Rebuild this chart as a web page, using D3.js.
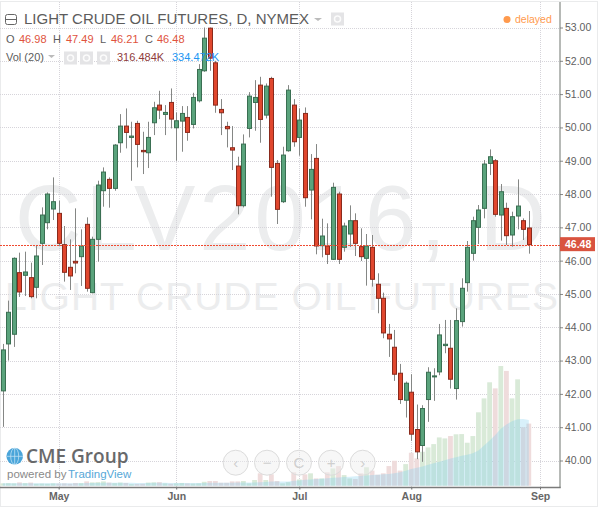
<!DOCTYPE html>
<html>
<head>
<meta charset="utf-8">
<title>Light Crude Oil Futures</title>
<script src="https://d3js.org/d3.v7.min.js"></script>
<style>
html, body { margin: 0; padding: 0; background: #fff; }
svg { display: block; font-family: "Liberation Sans", Arial, sans-serif; }
</style>
</head>
<body>
<div id="chart"></div>
<script>
// trading days, Apr 18 to Sep 1 2016
var days = ["04-18","04-19","04-20","04-21","04-22","04-25","04-26","04-27","04-28","04-29",
  "05-02","05-03","05-04","05-05","05-06","05-09","05-10","05-11","05-12","05-13",
  "05-16","05-17","05-18","05-19","05-20","05-23","05-24","05-25","05-26","05-27","05-31",
  "06-01","06-02","06-03","06-06","06-07","06-08","06-09","06-10","06-13","06-14","06-15",
  "06-16","06-17","06-20","06-21","06-22","06-23","06-24","06-27","06-28","06-29","06-30",
  "07-01","07-05","07-06","07-07","07-08","07-11","07-12","07-13","07-14","07-15","07-18",
  "07-19","07-20","07-21","07-22","07-25","07-26","07-27","07-28","07-29",
  "08-01","08-02","08-03","08-04","08-05","08-08","08-09","08-10","08-11","08-12","08-15",
  "08-16","08-17","08-18","08-19","08-22","08-23","08-24","08-25","08-26","08-29","08-30",
  "08-31","09-01"];

var opens = [42.09,43.50,43.79,45.64,45.56,45.49,45.20,46.52,47.14,47.55,
  47.42,46.48,45.80,45.98,46.12,47.09,45.04,46.64,48.10,48.44,
  48.17,49.54,50.04,49.70,50.12,49.31,49.24,50.14,50.67,50.39,
  50.75,49.99,50.19,50.30,50.09,50.80,51.70,52.98,51.94,50.54,
  50.03,49.39,48.84,47.65,49.97,50.75,51.27,50.37,51.47,48.92,
  47.77,49.30,50.67,49.70,50.42,48.12,49.07,46.45,46.44,46.04,
  48.00,46.40,46.80,47.20,46.42,46.07,46.40,45.29,44.87,43.79,
  43.40,42.62,41.81,42.05,40.93,40.45,41.83,42.51,42.66,43.45,
  43.37,42.16,44.17,45.34,46.22,47.00,47.57,48.92,49.00,47.37,
  47.57,46.77,47.34,47.20,46.98];
var highs = [43.50,44.80,46.10,46.24,46.27,45.94,46.47,47.60,48.05,48.50,
  47.80,47.04,46.64,47.57,46.94,47.30,46.72,48.40,48.80,48.50,
  49.50,50.40,50.57,50.17,50.20,49.87,50.17,50.77,51.10,50.67,
  51.17,50.45,50.64,50.64,51.04,51.90,53.00,53.00,52.00,50.85,
  50.17,50.04,49.12,49.79,51.06,51.42,51.52,51.32,51.52,49.02,
  49.42,51.27,50.85,50.57,50.60,49.20,49.50,47.26,47.12,48.34,
  48.07,47.14,47.66,47.42,46.97,46.80,46.77,45.62,45.04,44.10,
  43.92,42.90,42.37,42.59,41.68,41.66,42.80,42.77,44.10,44.22,
  44.22,44.57,45.47,46.59,47.32,47.67,49.02,49.34,49.05,48.30,
  47.74,47.47,48.44,47.27,47.49];
var lows = [41.01,43.00,43.41,44.91,44.94,44.87,44.87,45.87,46.94,47.22,
  46.44,45.37,45.12,45.62,45.24,45.07,45.02,45.97,47.62,47.59,
  48.10,49.24,49.37,48.40,48.80,48.60,48.78,49.77,50.25,49.77,
  49.97,49.00,49.27,49.60,49.97,50.75,51.67,51.70,50.44,49.77,
  49.40,48.72,47.39,47.60,49.70,49.90,49.54,50.27,47.92,47.10,
  47.73,49.27,49.42,49.15,47.62,47.24,46.19,46.10,45.90,46.02,
  45.90,46.27,46.41,46.14,45.99,45.25,45.22,44.42,43.67,43.11,
  42.39,41.70,41.29,40.59,40.04,39.96,41.16,41.79,42.56,43.22,
  42.16,41.83,44.02,45.07,46.00,46.50,47.27,48.57,47.32,46.60,
  46.47,46.42,46.94,46.62,46.21];
var closes = [43.32,44.45,46.07,45.06,45.66,44.92,46.14,47.37,48.00,47.77,
  46.52,45.65,45.54,45.93,46.44,45.17,46.64,48.27,48.66,48.17,
  49.47,50.04,49.85,49.74,49.49,49.27,49.70,50.59,50.52,50.45,
  50.25,50.20,50.42,49.85,50.90,51.74,52.68,52.08,50.67,50.44,
  49.96,49.32,47.65,49.50,50.94,50.90,50.24,51.24,48.80,47.54,
  49.17,51.12,49.57,50.22,47.89,48.74,46.44,46.74,46.19,48.20,
  46.04,47.04,47.20,46.52,46.12,46.44,45.44,44.87,43.83,43.65,
  42.59,41.83,42.32,40.79,40.26,41.56,42.65,42.54,43.77,43.49,
  42.44,44.20,45.17,46.40,47.20,47.52,48.90,49.12,47.39,48.07,
  46.75,47.32,47.64,46.94,46.48];
// volume in thousands
var volumes = [12,13,12,17,13,16,10,11,10,12,
  11,12,10,14,13,22,17,18,22,16,
  13,16,14,8,9,10,16,17,18,12,
  10,12,14,12,11,12,20,24,24,15,
  15,22,22,24,12,29,63,29,58,24,
  12,18,68,32,58,63,37,37,68,88,
  100,54,37,34,63,94,77,56,63,100,
  127,77,110,168,139,173,195,212,246,241,
  253,262,263,219,253,374,445,527,496,610,
  585,445,542,298,316.484];
var volumeMa = [12,12,13,13,13,13,13,12,12,12,
  12,12,12,13,13,14,14,14,15,15,
  15,15,15,15,14,14,14,15,15,15,
  14,14,14,14,14,14,14,15,15,15,
  15,15,16,16,16,16,18,19,21,21,
  22,22,25,27,30,32,34,36,38,40,
  42,44,46,48,50,52,54,56,58,60,
  64,68,76,85,92,98,107,115,122,130,
  138,145,152,158,165,180,205,230,258,290,
  312,328,338,340,334.472];

var priceTicks = d3.range(40, 54);
var monthTicks = ["05-02","06-01","07-01","08-01","09-01"];
var monthLabels = ["May","Jun","Jul","Aug","Sep"];
var lastPrice = 46.48;

var width = 600, height = 509;
var plotRight = 560, plotBottom = 487.5;

var svg = d3.select("#chart").append("svg")
  .attr("width", width)
  .attr("height", height);

var x = d3.scalePoint().domain(days).range([2.7, 540]);
var y = d3.scaleLinear().domain([40, 53]).range([460.5, 27.5]);
var yVol = d3.scaleLinear().domain([0, 610]).range([485.7, 366]);

var grid = "#d6d4da";

// outer frame
svg.append("rect")
  .attr("x", 0.5).attr("y", 1.5)
  .attr("width", 597).attr("height", 505)
  .attr("fill", "none")
  .attr("stroke", "#d4d6d8")
  .attr("stroke-dasharray", "1 1");

// watermark
svg.append("text")
  .attr("x", 15).attr("y", 250)
  .attr("textLength", 531)
  .attr("lengthAdjust", "spacing")
  .attr("font-size", 92)
  .attr("fill", "#ecedee")
  .text("CLV2016, D");
svg.append("text")
  .attr("x", 5).attr("y", 310)
  .attr("textLength", 553)
  .attr("lengthAdjust", "spacing")
  .attr("font-size", 39)
  .attr("fill", "#ecedee")
  .text("LIGHT CRUDE OIL FUTURES");

// grid
svg.append("g").selectAll("line")
  .data(priceTicks)
  .join("line")
  .attr("x1", 0).attr("x2", plotRight)
  .attr("y1", function(d) { return Math.round(y(d)) + 0.5; })
  .attr("y2", function(d) { return Math.round(y(d)) + 0.5; })
  .attr("stroke", grid)
  .attr("stroke-dasharray", "1 1");
svg.append("g").selectAll("line")
  .data(monthTicks)
  .join("line")
  .attr("x1", function(d) { return Math.round(x(d)) + 0.5; })
  .attr("x2", function(d) { return Math.round(x(d)) + 0.5; })
  .attr("y1", 2).attr("y2", plotBottom)
  .attr("stroke", grid)
  .attr("stroke-dasharray", "1 1");

// volume bars and their average
svg.append("g").selectAll("rect")
  .data(volumes)
  .join("rect")
  .attr("x", function(d, i) { return x(days[i]) - 2.4; })
  .attr("y", function(d) { return yVol(d); })
  .attr("width", 4.8)
  .attr("height", function(d) { return yVol(0) - yVol(d); })
  .attr("fill", function(d, i) { return closes[i] >= opens[i] ? "#d9ead8" : "#efdcdc"; });

svg.append("path")
  .datum(volumeMa)
  .attr("d", d3.area()
    .x(function(d, i) { return x(days[i]); })
    .y0(yVol(0))
    .y1(function(d) { return yVol(d); }))
  .attr("fill", "#7fcdf0")
  .attr("fill-opacity", 0.3);

// candles
var candles = svg.append("g").selectAll("g")
  .data(days.slice(0, opens.length))
  .join("g");
candles.append("line")
  .attr("x1", function(d) { return Math.round(x(d)) + 0.5; })
  .attr("x2", function(d) { return Math.round(x(d)) + 0.5; })
  .attr("y1", function(d, i) { return y(highs[i]); })
  .attr("y2", function(d, i) { return y(lows[i]); })
  .attr("stroke", "#858785");
candles.append("rect")
  .attr("x", function(d) { return Math.round(x(d)) - 1.5; })
  .attr("width", 4)
  .attr("y", function(d, i) { return y(Math.max(opens[i], closes[i])); })
  .attr("height", function(d, i) { return Math.max(1, Math.abs(y(opens[i]) - y(closes[i]))); })
  .attr("fill", function(d, i) { return closes[i] >= opens[i] ? "#5aa37c" : "#e0472e"; })
  .attr("stroke", function(d, i) { return closes[i] >= opens[i] ? "#3a6f52" : "#8a2a1c"; })
  .attr("stroke-width", 1);

// last price line
svg.append("line")
  .attr("x1", 0).attr("x2", plotRight)
  .attr("y1", Math.round(y(lastPrice)) + 0.5)
  .attr("y2", Math.round(y(lastPrice)) + 0.5)
  .attr("stroke", "#f04a30")
  .attr("stroke-dasharray", "2 1");

// axes
var yAxis = d3.axisRight(y)
  .tickValues(priceTicks)
  .tickSize(3)
  .tickPadding(2)
  .tickFormat(d3.format(".2f"));
var yG = svg.append("g")
  .attr("transform", "translate(" + plotRight + ",0)")
  .call(yAxis);
yG.select(".domain").remove();
yG.selectAll("line").attr("stroke", "#888");
yG.selectAll("text")
  .attr("font-family", "Liberation Sans")
  .attr("font-size", 10.5)
  .attr("fill", "#5f5f5f");

var xAxis = d3.axisBottom(x)
  .tickValues(monthTicks)
  .tickSize(2)
  .tickPadding(3)
  .tickFormat(function(d, i) { return monthLabels[i]; });
var xG = svg.append("g")
  .attr("transform", "translate(0," + plotBottom + ")")
  .call(xAxis);
xG.select(".domain").remove();
xG.selectAll("line").attr("stroke", "#666");
xG.selectAll("text")
  .attr("font-family", "Liberation Sans")
  .attr("font-size", 10.5)
  .attr("font-weight", "bold")
  .attr("fill", "#666");

svg.append("line")
  .attr("x1", 0).attr("x2", plotRight + 0.75)
  .attr("y1", plotBottom).attr("y2", plotBottom)
  .attr("stroke", "#7b7b7b").attr("stroke-width", 1.5);
svg.append("line")
  .attr("x1", plotRight).attr("x2", plotRight)
  .attr("y1", 2).attr("y2", plotBottom)
  .attr("stroke", "#6f746f").attr("stroke-width", 1);

// last price tag
svg.append("rect")
  .attr("x", plotRight).attr("y", y(lastPrice) - 7.5)
  .attr("width", 35).attr("height", 14)
  .attr("fill", "#d9533f");
svg.append("text")
  .attr("x", plotRight + 5).attr("y", y(lastPrice) + 3.5)
  .attr("font-size", 10.5)
  .attr("font-weight", "bold")
  .attr("fill", "#fff")
  .text(d3.format(".2f")(lastPrice));

// legend
var dark = "#5c5c5c", red = "#e0533d";
svg.append("rect")
  .attr("x", 5.5).attr("y", 14.5).attr("width", 11).attr("height", 10).attr("rx", 2)
  .attr("fill", "none").attr("stroke", "#666");
svg.append("line")
  .attr("x1", 6).attr("x2", 16).attr("y1", 19.5).attr("y2", 19.5)
  .attr("stroke", "#666");
svg.append("text")
  .attr("x", 24).attr("y", 24)
  .attr("font-size", 15)
  .attr("fill", dark)
  .text("LIGHT CRUDE OIL FUTURES, D, NYMEX");
svg.append("path")
  .attr("d", "M314 18h8l-4 3z")
  .attr("fill", "#bbb");

var ohlcLabels = [[6, "O", dark], [19, "46.98", red], [53, "H", dark], [66, "47.49", red],
  [100, "L", dark], [111, "46.21", red], [145, "C", dark], [157, "46.48", red]];
svg.append("g").selectAll("text")
  .data(ohlcLabels)
  .join("text")
  .attr("x", function(d) { return d[0]; })
  .attr("y", 43)
  .attr("font-size", 11)
  .attr("fill", function(d) { return d[2]; })
  .text(function(d) { return d[1]; });

svg.append("text")
  .attr("x", 6).attr("y", 61)
  .attr("font-size", 11)
  .attr("fill", dark)
  .text("Vol (20)");
svg.append("path")
  .attr("d", "M48 55h7l-3.5 3z")
  .attr("fill", "#bbb");
svg.append("text")
  .attr("x", 117).attr("y", 61)
  .attr("font-size", 11)
  .attr("fill", "#8f3b3b")
  .text("316.484K");
svg.append("text")
  .attr("x", 172).attr("y", 61)
  .attr("font-size", 11)
  .attr("fill", "#2196f3")
  .text("334.472K");

// small grey icon buttons
var iconBoxes = [[331, 12.5], [64, 51.5], [80, 51.5], [97, 51.5]];
svg.append("g").selectAll("rect")
  .data(iconBoxes)
  .join("rect")
  .attr("x", function(d) { return d[0]; })
  .attr("y", function(d) { return d[1]; })
  .attr("width", 13).attr("height", 13)
  .attr("fill", "#e4e4e6");
svg.append("g").selectAll("circle")
  .data(iconBoxes)
  .join("circle")
  .attr("cx", function(d) { return d[0] + 6.5; })
  .attr("cy", function(d) { return d[1] + 6.5; })
  .attr("r", 3)
  .attr("fill", "none")
  .attr("stroke", "#fbfbfb")
  .attr("stroke-width", 1.5);

svg.append("circle")
  .attr("cx", 507).attr("cy", 19.5).attr("r", 3.5)
  .attr("fill", "#ff9a4d");
svg.append("text")
  .attr("x", 515).attr("y", 23)
  .attr("font-size", 10.5)
  .attr("fill", "#ff9a4d")
  .text("delayed");

// zoom buttons
var buttons = [[235.7, "\u2039"], [267, "\u2212"], [299, "C"], [331, "+"], [362.7, "\u203a"]];
var btn = svg.append("g").selectAll("g")
  .data(buttons)
  .join("g")
  .attr("transform", function(d) { return "translate(" + d[0] + ",462.7)"; });
btn.append("circle")
  .attr("r", 12.5)
  .attr("fill", "#eeeeee")
  .attr("fill-opacity", 0.45)
  .attr("stroke", "#dcdcdc");
btn.append("text")
  .attr("text-anchor", "middle")
  .attr("y", 5)
  .attr("font-size", 15)
  .attr("fill", "#cfcfcf")
  .text(function(d) { return d[1]; });

// logo
var globe = svg.append("g").attr("transform", "translate(14.7,456.3)");
globe.append("circle").attr("r", 8.3).attr("fill", "#4aa5da");
globe.append("ellipse").attr("rx", 4).attr("ry", 8.3)
  .attr("fill", "none").attr("stroke", "#cfe8f6").attr("stroke-width", 0.7);
globe.append("line").attr("x1", -8.3).attr("x2", 8.3)
  .attr("stroke", "#cfe8f6").attr("stroke-width", 0.7);
globe.append("line").attr("y1", -8.3).attr("y2", 8.3)
  .attr("stroke", "#cfe8f6").attr("stroke-width", 0.7);
svg.append("text")
  .attr("x", 26).attr("y", 463)
  .attr("font-family", "Open Sans")
  .attr("font-size", 19)
  .attr("font-weight", 600)
  .attr("fill", "#68696b")
  .text("CME Group");
svg.append("text")
  .attr("x", 7).attr("y", 478)
  .attr("font-size", 11.5)
  .attr("fill", "#8a8a8a")
  .text("powered by");
svg.append("text")
  .attr("x", 68).attr("y", 478)
  .attr("font-size", 11.5)
  .attr("fill", "#57a8d8")
  .text("TradingView");
</script>
</body>
</html>
